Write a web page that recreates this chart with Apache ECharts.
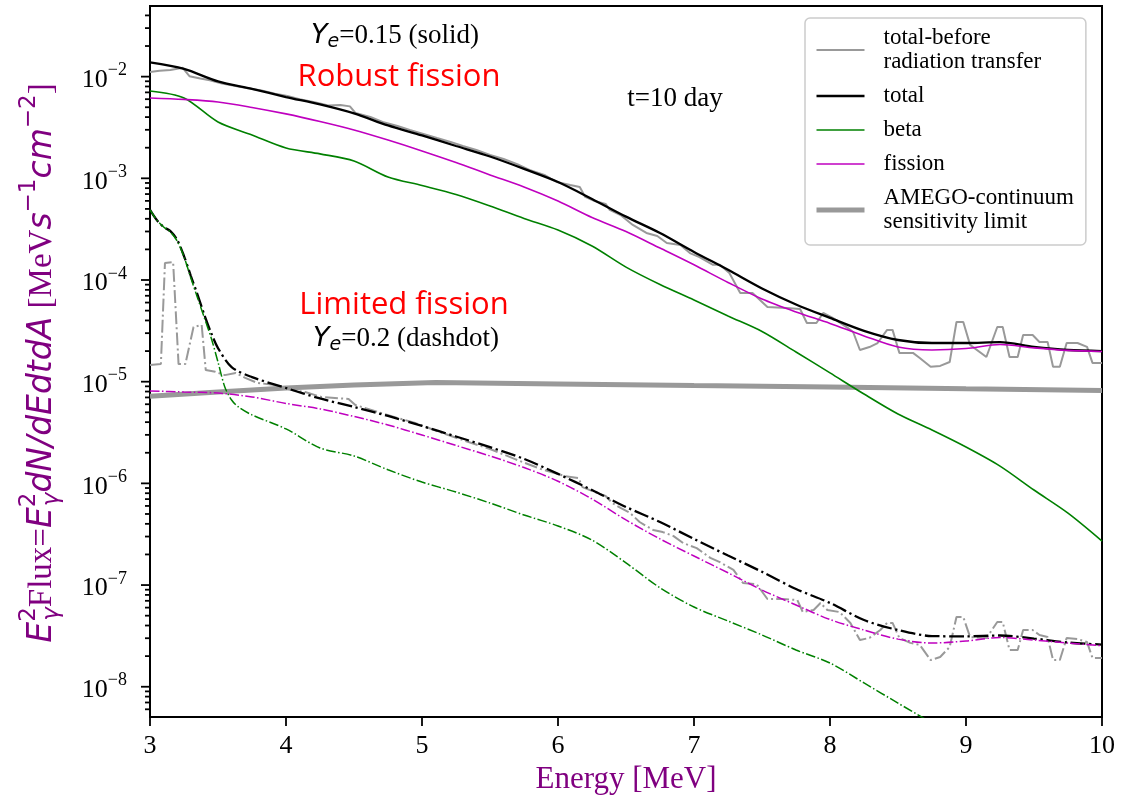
<!DOCTYPE html>
<html>
<head>
<meta charset="utf-8">
<script src="https://cdn.jsdelivr.net/npm/echarts@6/dist/echarts.min.js"></script>
<style>
html, body { margin: 0; padding: 0; background: #fff; }
#chart { width: 1133px; height: 799px; }
</style>
</head>
<body>
<div id="chart"></div>
<script>
// ---------- energies [MeV] ----------
const energyGrid = [3.0, 3.25, 3.5, 3.75, 4.0, 4.25, 4.5, 4.75, 5.0, 5.25, 5.5, 5.75, 6.0, 6.25, 6.5, 6.75,
  7.0, 7.25, 7.5, 7.75, 8.0, 8.25, 8.5, 8.75, 9.0, 9.25, 9.5, 9.75, 10.0];

// ---------- Ye = 0.15, robust fission (solid) ----------
const totalRobust = [1.38e-2, 1.19e-2, 8.97e-3, 7.57e-3, 6.3e-3, 5.33e-3, 4.35e-3, 3.31e-3, 2.64e-3, 2.08e-3,
  1.64e-3, 1.24e-3, 9.2e-4, 6.27e-4, 4.2e-4, 2.9e-4, 1.89e-4, 1.26e-4, 8.26e-5, 5.75e-5, 4.24e-5, 3.16e-5,
  2.57e-5, 2.4e-5, 2.4e-5, 2.45e-5, 2.2e-5, 2.05e-5, 2.0e-5];
const fissionRobust = [6.17e-3, 5.97e-3, 5.64e-3, 4.98e-3, 4.3e-3, 3.62e-3, 2.99e-3, 2.38e-3, 1.86e-3, 1.43e-3,
  1.08e-3, 8.22e-4, 5.98e-4, 4.12e-4, 3.0e-4, 2.06e-4, 1.41e-4, 9.46e-5, 6.5e-5, 4.85e-5, 3.74e-5, 2.82e-5,
  2.19e-5, 2.05e-5, 2.12e-5, 2.32e-5, 2.15e-5, 2.03e-5, 1.98e-5];
const betaRobust = [7.23e-3, 6.17e-3, 3.58e-3, 2.67e-3, 1.99e-3, 1.74e-3, 1.48e-3, 1.03e-3, 8.5e-4, 6.94e-4,
  5.35e-4, 4.03e-4, 3.1e-4, 2.16e-4, 1.34e-4, 9.04e-5, 6.37e-5, 4.43e-5, 3.12e-5, 1.96e-5, 1.22e-5, 7.56e-6,
  4.81e-6, 3.35e-6, 2.28e-6, 1.48e-6, 8.6e-7, 5.1e-7, 2.71e-7];

const energyBeforeRobust = [3.00, 3.07, 3.15, 3.24, 3.29, 3.37, 3.44, 3.53, 3.63, 3.72, 3.82, 3.92, 4.01, 4.10,
  4.21, 4.31, 4.40, 4.47, 4.51, 4.62, 4.71, 4.82, 4.91, 5.01, 5.11, 5.21, 5.30, 5.40, 5.50, 5.60, 5.70, 5.79,
  5.90, 5.99, 6.09, 6.16, 6.20, 6.27, 6.35, 6.38, 6.46, 6.55, 6.65, 6.73, 6.80, 6.90, 6.97, 7.04, 7.14, 7.19,
  7.26, 7.34, 7.43, 7.54, 7.68, 7.78, 7.83, 7.90, 7.95, 8.02, 8.13, 8.17, 8.22, 8.29, 8.35, 8.42, 8.46, 8.51,
  8.61, 8.66, 8.74, 8.81, 8.88, 8.93, 8.98, 9.03, 9.15, 9.23, 9.27, 9.32, 9.38, 9.42, 9.49, 9.54, 9.60, 9.64,
  9.69, 9.74, 9.82, 9.89, 9.93, 10.0];
const beforeRobust = [1.11e-2, 1.14e-2, 1.16e-2, 1.22e-2, 1.01e-2, 9.6e-3, 9.2e-3, 8.55e-3, 8.1e-3, 7.7e-3,
  7.3e-3, 6.8e-3, 6.45e-3, 6.0e-3, 5.6e-3, 5.2e-3, 5.25e-3, 5.1e-3, 4.4e-3, 4.02e-3, 3.58e-3, 3.27e-3,
  2.99e-3, 2.73e-3, 2.49e-3, 2.28e-3, 2.08e-3, 1.9e-3, 1.7e-3, 1.55e-3, 1.38e-3, 1.21e-3, 1.08e-3, 9.2e-4,
  8.6e-4, 8.22e-4, 6.56e-4, 5.98e-4, 5.6e-4, 4.89e-4, 4.36e-4, 3.48e-4, 2.9e-4, 2.71e-4, 2.31e-4, 2.21e-4,
  1.84e-4, 1.68e-4, 1.41e-4, 1.41e-4, 1.17e-4, 7.45e-5, 7.45e-5, 5.43e-5, 5.31e-5, 5.19e-5, 3.78e-5, 3.78e-5,
  4.74e-5, 4.24e-5, 3.38e-5, 3.08e-5, 2.05e-5, 2.19e-5, 2.4e-5, 3.23e-5, 3.23e-5, 1.92e-5, 1.92e-5, 1.71e-5,
  1.4e-5, 1.43e-5, 1.56e-5, 3.86e-5, 3.86e-5, 2.3e-5, 1.75e-5, 3.45e-5, 3.45e-5, 1.75e-5, 1.75e-5, 2.88e-5,
  2.88e-5, 2.46e-5, 2.46e-5, 1.4e-5, 1.4e-5, 2.4e-5, 2.4e-5, 2.2e-5, 1.53e-5, 1.53e-5];

// ---------- Ye = 0.2, limited fission (dashdot) ----------
const energyTotalLimited = [3.0, 3.05, 3.1, 3.15, 3.2, 3.25, 3.3, 3.35, 3.4, 3.45, 3.5, 3.6, 3.75, 4.0, 4.25,
  4.5, 4.75, 5.0, 5.25, 5.5, 5.75, 6.0, 6.25, 6.5, 6.75, 7.0, 7.25, 7.5, 7.75, 8.0, 8.25, 8.5, 8.75, 9.0, 9.25,
  9.5, 9.75, 10.0];
const totalLimited = [4.89e-4, 3.89e-4, 3.32e-4, 3.03e-4, 2.48e-4, 1.72e-4, 1.1e-4, 7.13e-5, 4.53e-5, 3.01e-5,
  2.14e-5, 1.39e-5, 1.11e-5, 8.67e-6, 6.84e-6, 5.64e-6, 4.6e-6, 3.67e-6, 2.89e-6, 2.27e-6, 1.74e-6, 1.24e-6,
  8.6e-7, 5.86e-7, 4.17e-7, 2.84e-7, 1.95e-7, 1.35e-7, 9.15e-8, 6.67e-8, 4.53e-8, 3.61e-8, 3.15e-8, 3.13e-8,
  3.19e-8, 2.98e-8, 2.72e-8, 2.6e-8];

const energyBetaLimited = [3.0, 3.05, 3.1, 3.15, 3.2, 3.25, 3.3, 3.35, 3.4, 3.45, 3.5, 3.55, 3.6, 3.65, 3.75,
  4.0, 4.25, 4.5, 4.75, 5.0, 5.25, 5.5, 5.75, 6.0, 6.25, 6.5, 6.75, 7.0, 7.25, 7.5, 7.75, 8.0, 8.25, 8.5, 8.75];
const betaLimited = [4.89e-4, 3.89e-4, 3.32e-4, 2.97e-4, 2.42e-4, 1.69e-4, 1.05e-4, 6.67e-5, 4.24e-5, 2.69e-5,
  1.56e-5, 8.87e-6, 6.61e-6, 5.64e-6, 4.71e-6, 3.43e-6, 2.23e-6, 1.86e-6, 1.36e-6, 1.03e-6, 8.22e-7, 6.41e-7,
  4.89e-7, 3.81e-7, 2.77e-7, 1.65e-7, 9.4e-8, 6.08e-8, 4.43e-8, 3.23e-8, 2.3e-8, 1.71e-8, 1.09e-8, 6.9e-9, 4.4e-9];

const fissionLimited = [8.11e-6, 7.92e-6, 7.74e-6, 7.08e-6, 6.11e-6, 5.4e-6, 4.55e-6, 3.75e-6, 2.99e-6, 2.36e-6,
  1.86e-6, 1.43e-6, 1.05e-6, 7.02e-7, 4.37e-7, 2.84e-7, 1.93e-7, 1.32e-7, 8.94e-8, 6.37e-8, 4.58e-8, 3.61e-8,
  2.94e-8, 2.69e-8, 2.82e-8, 3.05e-8, 2.88e-8, 2.69e-8, 2.53e-8];

const energyBeforeLimited = [3.00, 3.08, 3.11, 3.17, 3.21, 3.26, 3.32, 3.38, 3.41, 3.48, 3.55, 3.63, 3.70, 3.79,
  3.92, 4.04, 4.14, 4.26, 4.36, 4.46, 4.51, 4.70, 4.82, 4.95, 5.13, 5.32, 5.50, 5.68, 5.87, 6.05, 6.15, 6.18,
  6.27, 6.35, 6.40, 6.46, 6.53, 6.60, 6.70, 6.77, 6.85, 6.92, 7.02, 7.12, 7.19, 7.29, 7.36, 7.46, 7.54, 7.65,
  7.76, 7.80, 7.88, 7.93, 7.98, 8.07, 8.15, 8.22, 8.29, 8.37, 8.42, 8.46, 8.51, 8.59, 8.66, 8.74, 8.81, 8.88,
  8.93, 8.98, 9.03, 9.15, 9.23, 9.27, 9.32, 9.38, 9.42, 9.49, 9.54, 9.60, 9.64, 9.69, 9.74, 9.82, 9.89, 9.93, 10.0];
const beforeLimited = [1.46e-5, 1.49e-5, 1.47e-4, 1.5e-4, 1.49e-5, 1.49e-5, 3.45e-5, 3.61e-5, 1.3e-5, 1.25e-5,
  1.16e-5, 1.22e-5, 1.09e-5, 9.71e-6, 9.29e-6, 8.29e-6, 7.92e-6, 7.08e-6, 6.92e-6, 6.76e-6, 5.9e-6, 4.92e-6,
  4.4e-6, 3.93e-6, 3.2e-6, 2.61e-6, 2.18e-6, 1.74e-6, 1.39e-6, 1.18e-6, 1.13e-6, 9.2e-7, 8.22e-7, 7.52e-7,
  6.41e-7, 5.73e-7, 5.11e-7, 4.17e-7, 3.48e-7, 3.32e-7, 3.03e-7, 2.59e-7, 2.31e-7, 1.85e-7, 1.68e-7, 1.41e-7,
  1.05e-7, 1.02e-7, 7.29e-8, 7.29e-8, 7.13e-8, 5.43e-8, 5.69e-8, 6.67e-8, 5.69e-8, 5.43e-8, 4.24e-8, 2.88e-8,
  3.02e-8, 3.61e-8, 4.24e-8, 4.24e-8, 3.02e-8, 2.7e-8, 2.58e-8, 1.83e-8, 1.96e-8, 2.46e-8, 4.85e-8, 4.85e-8,
  3.08e-8, 3.01e-8, 4.33e-8, 4.33e-8, 2.3e-8, 2.3e-8, 3.61e-8, 3.61e-8, 3.23e-8, 3.08e-8, 1.83e-8, 1.83e-8,
  3.01e-8, 2.95e-8, 2.75e-8, 1.92e-8, 1.92e-8];

// ---------- AMEGO continuum sensitivity ----------
const energyAmego = [3.0, 3.5, 4.0, 4.5, 5.1, 6.0, 7.0, 8.0, 9.0, 10.0];
const fluxAmego = [7.2e-6, 7.9e-6, 8.65e-6, 9.3e-6, 9.8e-6, 9.5e-6, 9.15e-6, 8.87e-6, 8.5e-6, 8.2e-6];

// ---------- axes ----------
const xTicks = [3, 4, 5, 6, 7, 8, 9, 10];
const yDecadeExponents = [-8, -7, -6, -5, -4, -3, -2];
const minorMantissas = [2, 3, 4, 5, 6, 7, 8, 9];
const yMin = 5.04e-9, yMax = 4.95e-2;

const majorTickValues = yDecadeExponents.map(e => Math.pow(10, e));
const minorTickValues = [];
for (let e = -9; e <= -2; e++) {
  minorMantissas.forEach(m => {
    const v = m * Math.pow(10, e);
    if (v >= yMin && v <= yMax) minorTickValues.push(v);
  });
}

const PURPLE = '#800080';
const GRAY = '#999999';
const MAGENTA = '#bf00bf';
const GREEN = '#008000';

function pairs(xs, ys) { return xs.map((x, i) => [x, ys[i]]); }

function lineSeries(name, xs, ys, color, width, dash, smooth) {
  return {
    type: 'line', name: name, data: pairs(xs, ys),
    showSymbol: false, symbol: 'none', smooth: smooth ? 0.3 : false,
    itemStyle: { color: color },
    lineStyle: { color: color, width: width, type: dash || 'solid', cap: 'butt' },
    emphasis: { disabled: true }, silent: true
  };
}

function tickSeries(values, len) {
  return {
    type: 'custom', silent: true, clip: false, z: 5,
    data: values.map(v => [xTicks[0], v]),
    renderItem: function (params, api) {
      const p = api.coord([api.value(0), api.value(1)]);
      return {
        type: 'line',
        shape: { x1: p[0] - len, y1: p[1], x2: p[0], y2: p[1] },
        style: { stroke: '#000', lineWidth: 1.8 }
      };
    }
  };
}

const dashDot = w => [6.4 * w, 1.6 * w, 1.0 * w, 1.6 * w];

const NAME_BEFORE = 'total-before\nradiation transfer';
const NAME_AMEGO = 'AMEGO-continuum\nsensitivity limit';

const series = [
  lineSeries(NAME_AMEGO, energyAmego, fluxAmego, GRAY, 5, null, false),
  lineSeries(NAME_BEFORE, energyBeforeRobust, beforeRobust, GRAY, 2, null, false),
  lineSeries('total', energyGrid, totalRobust, '#000000', 2.3, null, true),
  lineSeries('beta', energyGrid, betaRobust, GREEN, 1.6, null, true),
  lineSeries('fission', energyGrid, fissionRobust, MAGENTA, 1.6, null, true),
  lineSeries('total-before (Ye=0.2)', energyBeforeLimited, beforeLimited, GRAY, 2, dashDot(2), false),
  lineSeries('total (Ye=0.2)', energyTotalLimited, totalLimited, '#000000', 2.3, dashDot(2.3), true),
  lineSeries('beta (Ye=0.2)', energyBetaLimited, betaLimited, GREEN, 1.5, dashDot(1.5), true),
  lineSeries('fission (Ye=0.2)', energyGrid, fissionLimited, MAGENTA, 1.5, dashDot(1.5), true),
  tickSeries(majorTickValues, 9),
  tickSeries(minorTickValues, 5)
];

// rich text pieces
const yeRich = {
  y: { fontFamily: 'DejaVu Sans', fontStyle: 'italic', fontSize: 27, lineHeight: 40, align: 'left', fill: '#000' },
  e: { fontFamily: 'DejaVu Sans', fontStyle: 'italic', fontSize: 19, verticalAlign: 'bottom', height: 27, align: 'left', fill: '#000' },
  r: { fontFamily: 'Liberation Serif', fontSize: 27, lineHeight: 40, align: 'left', fill: '#000' }
};

const yNameRich = {
  m: { fontFamily: 'DejaVu Sans', fontStyle: 'italic', fontSize: 33, lineHeight: 64, align: 'left', fill: PURPLE },
  r: { fontFamily: 'Liberation Serif', fontSize: 33, lineHeight: 64, align: 'left', fill: PURPLE },
  up0: { fontFamily: 'DejaVu Sans', fontSize: 23, verticalAlign: 'top', height: 39, width: 1, align: 'left', fill: PURPLE },
  up: { fontFamily: 'DejaVu Sans', fontSize: 23, verticalAlign: 'top', height: 39, align: 'left', fill: PURPLE },
  dn: { fontFamily: 'DejaVu Sans', fontStyle: 'italic', fontSize: 23, verticalAlign: 'bottom', height: 44, align: 'left', fill: PURPLE }
};

const option = {
  backgroundColor: '#ffffff',
  animation: false,
  grid: {
    left: 150, right: 31, top: 6, bottom: 82,
    show: true, borderColor: '#000', borderWidth: 2, backgroundColor: 'transparent',
    containLabel: false, outerBoundsMode: 'none'
  },
  xAxis: {
    type: 'value', min: xTicks[0], max: xTicks[xTicks.length - 1], interval: 1,
    axisLine: { show: true, onZero: false, lineStyle: { color: '#000', width: 2 } },
    axisTick: { show: true, length: 9, lineStyle: { color: '#000', width: 1.8 } },
    splitLine: { show: false },
    axisLabel: { margin: 16, color: '#000', fontFamily: 'Liberation Serif', fontSize: 26 },
    name: 'Energy [MeV]', nameLocation: 'middle', nameGap: 42,
    nameTextStyle: { color: PURPLE, fontFamily: 'Liberation Serif', fontSize: 31 }
  },
  yAxis: {
    type: 'log', logBase: 10, min: yMin, max: yMax,
    axisLine: { show: true, onZero: false, lineStyle: { color: '#000', width: 2 } },
    axisTick: { show: false },
    splitLine: { show: false },
    axisLabel: {
      margin: 23, color: '#000',
      formatter: function (v) {
        const e = Math.log10(v);
        const r = Math.round(e);
        if (Math.abs(e - r) > 1e-6 || yDecadeExponents.indexOf(r) < 0) return '';
        return '{b|10}{s|\u2212' + Math.abs(r) + '}';
      },
      rich: {
        b: { fontFamily: 'Liberation Serif', fontSize: 26, height: 26, lineHeight: 33, verticalAlign: 'bottom', color: '#000' },
        s: { fontFamily: 'Liberation Serif', fontSize: 18, height: 21, verticalAlign: 'top', color: '#000' }
      }
    }
  },
  legend: {
    data: [NAME_BEFORE, 'total', 'beta', 'fission', NAME_AMEGO],
    orient: 'vertical', left: 805, top: 18,
    padding: [8, 12, 11, 9], itemGap: 10, itemWidth: 48, itemHeight: 14,
    backgroundColor: '#ffffff', borderColor: '#cccccc', borderWidth: 1.5, borderRadius: 5,
    selectedMode: false,
    lineStyle: { width: 'inherit' },
    itemStyle: { color: 'transparent', borderWidth: 0, opacity: 0 },
    textStyle: { color: '#000', fontFamily: 'Liberation Serif', fontSize: 23, lineHeight: 24, padding: [0, 0, 0, 14] }
  },
  graphic: [
    {
      type: 'text', x: 395, y: 36, silent: true,
      style: { text: '{y|Y}{e|e}{r|=0.15 (solid)}', rich: yeRich, align: 'center', verticalAlign: 'middle' }
    },
    {
      type: 'text', x: 399, y: 77, silent: true,
      style: { text: 'Robust fission', fill: '#ff0000', fontFamily: 'Open Sans', fontSize: 31, align: 'center', verticalAlign: 'middle' }
    },
    {
      type: 'text', x: 675, y: 99, silent: true,
      style: { text: 't=10 day', fill: '#000', fontFamily: 'Liberation Serif', fontSize: 27, align: 'center', verticalAlign: 'middle' }
    },
    {
      type: 'text', x: 404, y: 305, silent: true,
      style: { text: 'Limited fission', fill: '#ff0000', fontFamily: 'Open Sans', fontSize: 31, align: 'center', verticalAlign: 'middle' }
    },
    {
      type: 'text', x: 406, y: 339, silent: true,
      style: { text: '{y|Y}{e|e}{r|=0.2 (dashdot)}', rich: yeRich, align: 'center', verticalAlign: 'middle' }
    },
    {
      type: 'text', x: 42, y: 363, rotation: Math.PI / 2, silent: true,
      style: {
        text: '{m|E}{up0|2}{dn|\u03b3}{r|Flux=}{m|E}{up0|2}{dn|\u03b3}{m|dN/dEdtdA}{r| [MeV}{m|s}{up|\u22121}{m|cm}{up|\u22122}{r|]}',
        rich: yNameRich, align: 'center', verticalAlign: 'middle'
      }
    }
  ],
  series: series
};

const chart = echarts.init(document.getElementById('chart'), null, { renderer: 'canvas' });
chart.setOption(option);
</script>
</body>
</html>
